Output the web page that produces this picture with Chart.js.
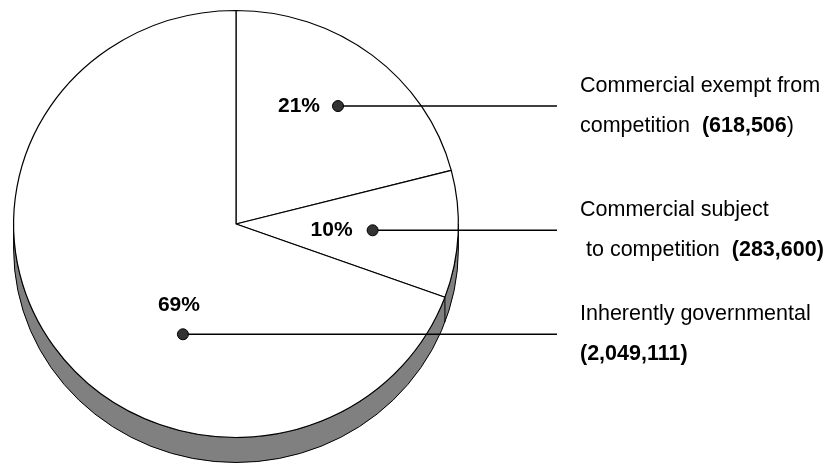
<!DOCTYPE html>
<html><head><meta charset="utf-8">
<script src="https://cdn.jsdelivr.net/npm/chart.js@4/dist/chart.umd.min.js"></script>
<style>html,body{margin:0;padding:0;background:#fff}#wrap{width:831px;height:465px;position:relative}</style>
</head><body><div id="wrap"><canvas id="c" width="831" height="465"></canvas></div>
<script>
// ---- data ----
const categories = ['Commercial exempt from competition', 'Commercial subject to competition', 'Inherently governmental'];
const positions = [618506, 283600, 2049111];
const labelFirstLines = ['Commercial exempt from', 'Commercial subject', 'Inherently governmental'];
const labelSecondLines = ['competition  ', ' to competition  ', ''];

// ---- layout / style ----
const TILT = 0.96, DEPTH = 25;
const FONT = '"Liberation Sans", Arial, Helvetica, sans-serif';
const TEXT_SIZE = 21.5, PCT_SIZE = 21;
const dotLayout = [ {ang: -50.3, f: 0.718}, {ang: 2.75, f: 0.615}, {ang: 114.8, f: 0.569} ];
const TEXT_X = 580, LEADER_END = 557, LINE_GAP = 20;

const total = positions.reduce((a, b) => a + b, 0);
const fmt = v => v.toLocaleString('en-US');

function geom(chart) {
  const arcs = chart.getDatasetMeta(0).data;
  const a0 = arcs[0];
  return {arcs, cx: a0.x, cy: a0.y, rx: a0.outerRadius, ry: a0.outerRadius * TILT};
}

const tiltPlugin = {
  id: 'tilt',
  beforeDatasetsDraw(chart) {
    const ctx = chart.ctx;
    const {arcs, cx, cy, rx, ry} = geom(chart);
    ctx.save();
    ctx.beginPath();
    ctx.moveTo(cx - rx, cy);
    ctx.ellipse(cx, cy + DEPTH, rx, ry, 0, Math.PI, 0, true);
    ctx.lineTo(cx + rx, cy);
    ctx.ellipse(cx, cy, rx, ry, 0, 0, Math.PI, false);
    ctx.closePath();
    ctx.fillStyle = '#808080';
    ctx.fill();
    ctx.lineWidth = 1;
    ctx.strokeStyle = '#000';
    ctx.stroke();
    arcs.forEach(a => {
      const s = Math.sin(a.endAngle);
      if (s > 0.01) {
        const x = cx + rx * Math.cos(a.endAngle), y = cy + ry * s;
        ctx.beginPath(); ctx.moveTo(x, y); ctx.lineTo(x, y + DEPTH); ctx.stroke();
      }
    });
    ctx.restore();
    ctx.save();
    ctx.translate(cx, cy); ctx.scale(1, TILT); ctx.translate(-cx, -cy);
  },
  afterDatasetsDraw(chart) { chart.ctx.restore(); },
  afterDraw(chart) {
    const ctx = chart.ctx;
    const {cx, cy, rx, ry} = geom(chart);
    const reg = TEXT_SIZE + 'px ' + FONT, bold = 'bold ' + TEXT_SIZE + 'px ' + FONT;
    ctx.save();
    positions.forEach((v, i) => {
      const L = dotLayout[i];
      const t = L.ang * Math.PI / 180;
      const x = cx + L.f * rx * Math.cos(t), y = cy + L.f * ry * Math.sin(t);
      // leader
      ctx.beginPath(); ctx.moveTo(x, y); ctx.lineTo(LEADER_END, y);
      ctx.lineWidth = 1.6; ctx.strokeStyle = '#000'; ctx.stroke();
      // dot
      ctx.beginPath(); ctx.arc(x, y, 5.5, 0, Math.PI * 2);
      ctx.fillStyle = '#333'; ctx.fill(); ctx.lineWidth = 1; ctx.stroke();
      // percent
      const pct = Math.round(v / total * 100) + '%';
      ctx.font = 'bold ' + PCT_SIZE + 'px ' + FONT;
      ctx.fillStyle = '#000';
      ctx.textBaseline = 'middle';
      if (i === 2) { ctx.textAlign = 'center'; ctx.fillText(pct, x - 4, y - 29); }
      else { ctx.textAlign = 'right'; ctx.fillText(pct, x - (i === 0 ? 18 : 20), y); }
      // legend text
      ctx.textAlign = 'left';
      ctx.font = reg;
      ctx.fillText(labelFirstLines[i], TEXT_X, y - LINE_GAP);
      let xx = TEXT_X;
      const y2 = y + LINE_GAP;
      ctx.fillText(labelSecondLines[i], xx, y2);
      xx += ctx.measureText(labelSecondLines[i]).width;
      ctx.font = bold;
      if (i === 0) {
        const s = '(' + fmt(v);
        ctx.fillText(s, xx, y2); xx += ctx.measureText(s).width;
        ctx.font = reg; ctx.fillText(')', xx, y2);
      } else {
        ctx.fillText('(' + fmt(v) + ')', xx, y2);
      }
    });
    ctx.restore();
  }
};

new Chart(document.getElementById('c'), {
  type: 'pie',
  data: {
    labels: categories,
    datasets: [{
      data: positions,
      backgroundColor: '#ffffff',
      borderColor: '#000000',
      borderWidth: 1.2,
      borderAlign: 'center',
      clip: false
    }]
  },
  options: {
    responsive: false,
    devicePixelRatio: 1,
    animation: false,
    events: [],
    rotation: 0,
    layout: { padding: { left: 13, right: 372, top: 1, bottom: 18 } },
    plugins: { legend: { display: false }, tooltip: { enabled: false }, title: { display: false } }
  },
  plugins: [tiltPlugin]
});
</script>
</body></html>
